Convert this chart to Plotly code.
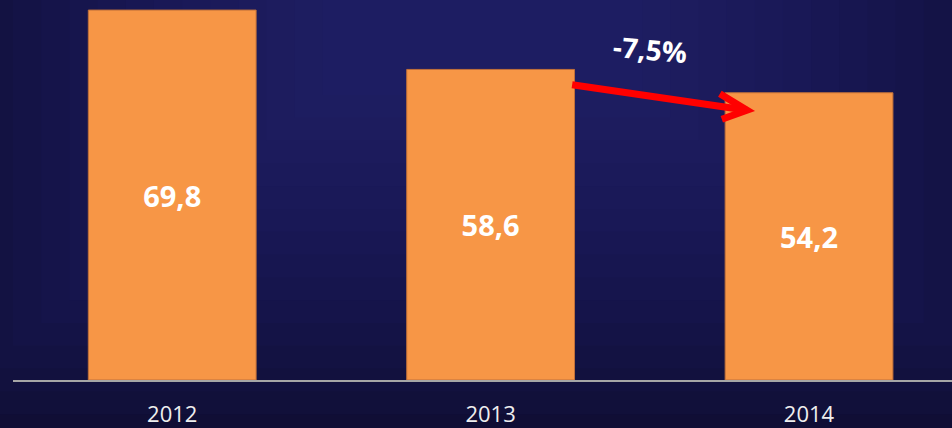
import plotly.graph_objects as go

years = ['2012', '2013', '2014']
values = [69.8, 58.6, 54.2]
value_labels = ['69,8', '58,6', '54,2']
change_label = '-7,5%'

fig = go.Figure()

# soft glow from the top centre of the dark background (nested faint rects)
steps = 16
for i in range(steps):
    k = i / (steps - 1)
    half_w = 0.62 - 0.45 * k
    fig.add_shape(type='rect', xref='paper', yref='paper',
                  x0=0.5 - half_w, x1=0.5 + half_w, y0=-0.15 + 0.9 * k, y1=1.1,
                  fillcolor='rgba(40,36,125,0.07)', line_width=0, layer='below')

fig.add_trace(go.Bar(
    x=years, y=values, text=value_labels,
    width=0.527,
    marker=dict(color='#F79646', line=dict(color='#c0703a', width=1)),
    textposition='inside', insidetextanchor='middle', textangle=0,
    textfont=dict(family='Open Sans', size=29, color='white', weight='bold'),
    hoverinfo='skip',
))

# red arrow from 2013 to 2014
fig.add_shape(type='path', xref='x', yref='y',
              path='M 1.256,55.7 L 1.805,50.9',
              line=dict(color='#ff0000', width=7))
fig.add_shape(type='path', xref='x', yref='y',
              path='M 1.720,54.0 L 1.805,50.9 L 1.726,49.2',
              line=dict(color='#ff0000', width=7))

fig.add_annotation(x=1.499, y=62.5, xref='x', yref='y', text=change_label,
                   showarrow=False, textangle=5,
                   font=dict(family='Open Sans', size=28, color='white', weight='bold'))

fig.update_layout(
    width=952, height=428,
    margin=dict(l=13, r=0, t=0, b=44),
    paper_bgcolor='#0e0c30',
    plot_bgcolor='rgba(0,0,0,0)',
    showlegend=False,
    xaxis=dict(
        type='category', range=[-0.5, 2.449],
        showline=True, linecolor='#a6a6a6', linewidth=2,
        showgrid=False, ticks='', ticklabelstandoff=14,
        tickfont=dict(family='Open Sans', size=22, color='#eeeeee'),
    ),
    yaxis=dict(range=[0, 71.7], visible=False, showgrid=False, zeroline=False),
)

fig.write_html('out.html', config={'displayModeBar': False},
               post_script="document.body.style.margin='0';")
